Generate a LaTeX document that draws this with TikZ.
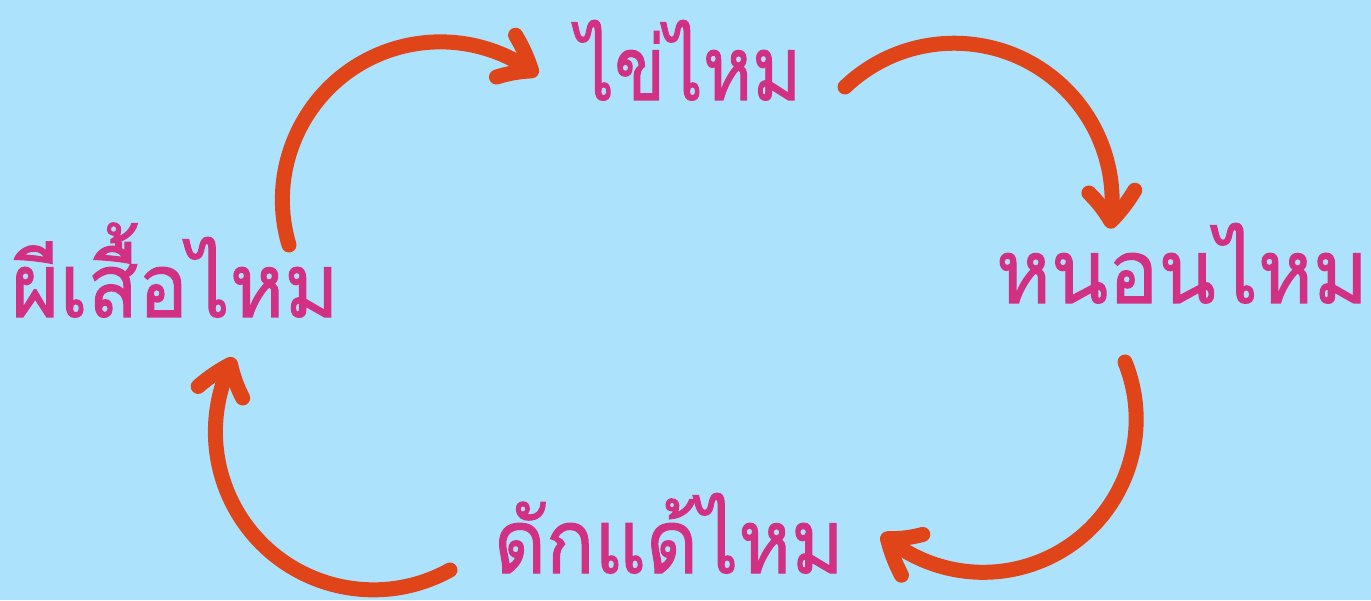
\documentclass[tikz,border=0pt]{standalone}
\usepackage{fontspec}
\newfontfamily\thaifont[Script=Thai,FakeBold=1.2]{Loma}
\usetikzlibrary{arrows.meta,bending}
\definecolor{bgblue}{HTML}{ADE2FD}
\definecolor{textpink}{HTML}{D23183}
\definecolor{arrowred}{HTML}{E04419}
\tikzset{
  stage/.style={text=textpink, font=\thaifont\fontsize{89}{89}\selectfont, inner sep=0pt, anchor=base, text depth=0pt},
  cyclearrow/.style={draw=arrowred, line width=15pt, line cap=round, line join=round,
    -{Straight Barb[length=30pt, width=46pt, round, bend]}}
}
\begin{document}
\begin{tikzpicture}[x=1pt,y=1pt]
\fill[bgblue] (0,0) rectangle (1371,600);
\useasboundingbox (0,0) rectangle (1371,600);
\node[stage] (egg) at (689,500) {\scalebox{0.84}[1]{ไข่ไหม}};
\node[stage] (larva) at (1182,297) {\scalebox{0.94}[1]{หนอนไหม}};
\node[stage] (pupa) at (669,27) {\scalebox{0.9}[1]{ดักแด้ไหม}};
\node[stage] (moth) at (175,283) {\scalebox{0.93}[1]{ผีเสื้อไหม}};
\coordinate (s1) at (289,355);
\coordinate (s2) at (845,513);
\coordinate (s3) at (1125,238);
\coordinate (s4) at (450,30);
\draw[cyclearrow] (s1) arc[start angle=196.6, end angle=52, radius=158];
\draw[cyclearrow] (s2) arc[start angle=133.7, end angle=-10, radius=158];
\draw[cyclearrow] (s3) arc[start angle=22, end angle=-131.5, radius=153];
\draw[cyclearrow] (s4) arc[start angle=-61, end angle=-208, radius=158];
\end{tikzpicture}
\end{document}
